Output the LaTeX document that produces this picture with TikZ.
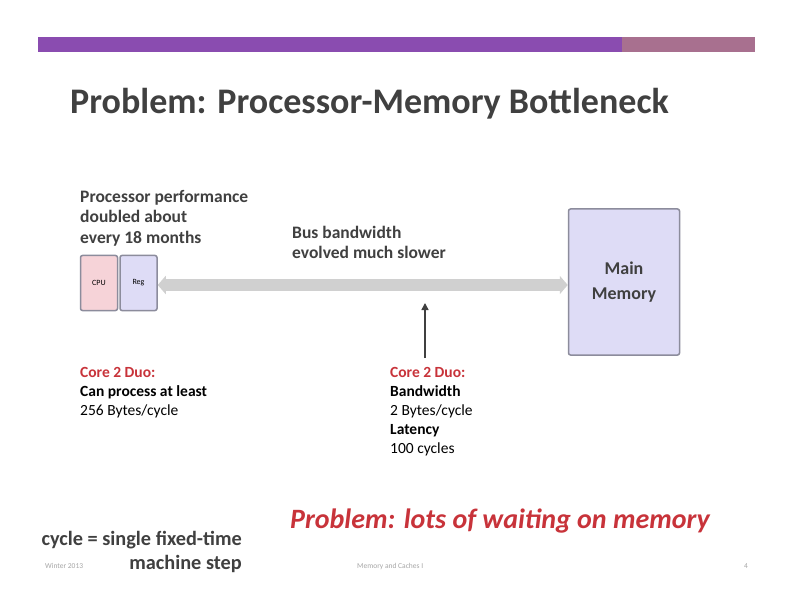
\documentclass[tikz,border=0pt]{standalone}
\usepackage{fontspec}
\setmainfont{Carlito}
\usetikzlibrary{arrows.meta}
\definecolor{barpurple}{HTML}{8A4CB0}
\definecolor{barpink}{HTML}{A8708F}
\definecolor{titlegray}{HTML}{404040}
\definecolor{hotred}{HTML}{C8333A}
\definecolor{pinkfill}{HTML}{F6D3D8}
\definecolor{lavfill}{HTML}{DEDCF6}
\definecolor{boxline}{HTML}{8C8C9C}
\definecolor{busgray}{HTML}{D0D0D0}
\tikzset{
  lbl/.style={anchor=west, inner sep=0pt, text=black},
  boxnode/.style={draw=boxline, line width=1.5pt, rounded corners=2pt, inner sep=0pt},
  footer/.style={inner sep=0pt, text=gray!70, font=\fontsize{7.5}{8}\selectfont}
}
\begin{document}
\begin{tikzpicture}[x=1pt,y=-1pt]
\useasboundingbox (0,0) rectangle (792,612);
\fill[white] (0,0) rectangle (792,612);
% top bar
\fill[barpurple] (38,37) rectangle (622,52);
\fill[barpink] (622,37) rectangle (755,52);
% title
\node[anchor=west, inner sep=0pt, text=titlegray, font=\fontsize{36}{40}\selectfont\bfseries] (title) at (70,104) {Problem: Processor-Memory Bottleneck};
% processor text
\node[lbl, font=\fontsize{17.5}{20.5}\selectfont\bfseries, align=left, anchor=north west, text=titlegray] (proc) at (80,190) {Processor performance\\doubled about\\every 18 months};
% CPU boxes
\node[boxnode, fill=pinkfill, minimum width=37pt, minimum height=55pt, font=\fontsize{8}{9}\selectfont] (cpu) at (99,283) {CPU};
\node[boxnode, fill=lavfill, minimum width=37pt, minimum height=55pt, font=\fontsize{8}{9}\selectfont] (reg) at (138.5,283) {Reg};
% main memory
\node[boxnode, fill=lavfill, minimum width=111pt, minimum height=146pt, font=\fontsize{18}{25}\selectfont\bfseries, align=center, text=titlegray] (mem) at (624,282) {Main\\Memory};
% bus
\draw[busgray, line width=12pt, {Triangle[length=8pt,width=18pt]}-{Triangle[length=8pt,width=18pt]}] (reg.east |- 0,285) -- (mem.west |- 0,285);
\node[lbl, font=\fontsize{17.5}{20.5}\selectfont\bfseries, align=left, anchor=north west, text=titlegray] (bus) at (292,226) {Bus bandwidth\\evolved much slower};
% vertical arrow
\coordinate (arrowtop) at (425,303);
\node[lbl, anchor=north west, font=\fontsize{15.5}{19}\selectfont, align=left] (right) at (390,367) {\textcolor{hotred}{\bfseries Core 2 Duo:}\\\bfseries Bandwidth\\2 Bytes/cycle\\\bfseries Latency\\100 cycles};
\draw[titlegray, line width=1.5pt, -{Triangle[length=7pt,width=7pt]}] (425,358) -- (arrowtop);
% left core text
\node[lbl, anchor=north west, font=\fontsize{15.5}{19}\selectfont, align=left] (left) at (80,367) {\textcolor{hotred}{\bfseries Core 2 Duo:}\\\bfseries Can process at least\\256 Bytes/cycle};
% problem
\node[anchor=west, inner sep=0pt, text=hotred, font=\fontsize{28}{32}\selectfont\bfseries\itshape] (prob) at (290,521) {Problem: lots of waiting on memory};
% cycle
\node[anchor=north east, inner sep=0pt, font=\fontsize{20.3}{24.5}\selectfont\bfseries, align=right, text=titlegray] (cycle) at (242,531) {cycle = single fixed-time\\machine step};
% footers
\node[footer, anchor=west] (fl) at (45,566) {Winter 2013};
\node[footer, anchor=west] (fm) at (357,566) {Memory and Caches I};
\node[footer, anchor=east] (fr) at (748,566) {4};
\end{tikzpicture}
\end{document}
